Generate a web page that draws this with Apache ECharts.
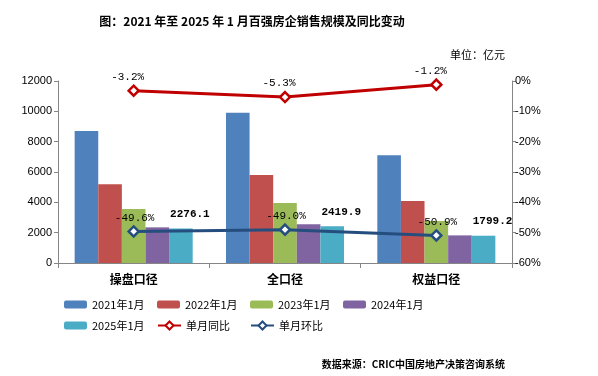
<!DOCTYPE html>
<html>
<head>
<meta charset="utf-8">
<script src="https://cdn.jsdelivr.net/npm/echarts@6/dist/echarts.min.js"></script>
<style>
html,body{margin:0;padding:0;background:#fff;}
#main{width:598px;height:376px;}
</style>
</head>
<body>
<div id="main"></div>
<script>
// 数据
var categories = ['操盘口径', '全口径', '权益口径'];
var years = ['2021年1月', '2022年1月', '2023年1月', '2024年1月', '2025年1月'];
var v2021 = [8700, 9900, 7100];
var v2022 = [5200, 5800, 4090];
var v2023 = [3560, 3950, 2770];
var v2024 = [2351, 2555, 1821];
var v2025 = [2276.1, 2419.9, 1799.2];
var yoy = [-3.2, -5.3, -1.2];   // 单月同比
var mom = [-49.6, -49.0, -50.9]; // 单月环比
var leftTicks = { min: 0, max: 12000, interval: 2000 };
var rightTicks = { min: -60, max: 0, interval: 10 };

var barColors = ['#4F81BD', '#C0504D', '#9BBB59', '#8064A2', '#4BACC6'];
var barData = [v2021, v2022, v2023, v2024, v2025];
var cjk = '"Noto Sans CJK SC", "Liberation Sans", sans-serif';
var mono = '"Liberation Mono", "DejaVu Sans Mono", monospace';
var arial = '"Liberation Sans", Arial, sans-serif';

var myChart = echarts.init(document.getElementById('main'));

var series = barData.map(function (d, i) {
    var s = {
        name: years[i],
        type: 'bar',
        data: d,
        barGap: '0%',
        barCategoryGap: '22%',
        itemStyle: { color: barColors[i] },
        z: 2
    };
    if (i == 4) {
        s.label = {
            show: true,
            position: 'top',
            offset: [9, -4],
            fontFamily: mono,
            fontWeight: 'bold',
            fontSize: 11,
            color: '#000',
            formatter: function (p) { return p.value.toFixed(1); }
        };
    }
    return s;
});

function lineSeries(name, data, color, offset) {
    return {
        name: name,
        type: 'line',
        yAxisIndex: 1,
        data: data,
        symbol: 'diamond',
        symbolSize: 10,
        lineStyle: { color: color, width: 3 },
        itemStyle: { color: '#fff', borderColor: color, borderWidth: 2.5 },
        label: {
            show: true,
            position: 'top',
            distance: 2,
            offset: offset,
            fontFamily: mono,
            fontSize: 11,
            color: '#000',
            formatter: function (p) { return p.value.toFixed(1) + '%'; }
        },
        z: 5
    };
}
series.push(lineSeries('单月同比', yoy, '#C00000', [-6, 0]));
series.push(lineSeries('单月环比', mom, '#254E7F', [1, 0]));

// 图例位置（两行）
var legendPos = [
    [years[0], 64, 299], [years[1], 157, 299], [years[2], 250, 299], [years[3], 343, 299],
    [years[4], 64, 320], ['单月同比', 157, 320], ['单月环比', 250, 320]
];
var legends = legendPos.map(function (p) {
    return {
        data: [p[0]],
        left: p[1],
        top: p[2],
        itemWidth: 23,
        itemHeight: p[0].indexOf('单月') == 0 ? 10 : 8,
        itemGap: 4,
        padding: 0,
        selectedMode: false,
        textStyle: { fontFamily: cjk, fontSize: 11, color: '#000' }
    };
});

var axisLine = { show: true, lineStyle: { color: '#868686', width: 1 } };

var option = {
    animation: false,
    backgroundColor: '#fff',
    title: [
        {
            text: '图：2021 年至 2025 年 1 月百强房企销售规模及同比变动',
            left: 247, top: 10, textAlign: 'center',
            textStyle: { fontFamily: cjk, fontSize: 12, fontWeight: 'bold', color: '#000' }
        },
        {
            text: '单位：亿元',
            right: 88, top: 44,
            textStyle: { fontFamily: cjk, fontSize: 11, fontWeight: 'normal', color: '#000' }
        },
        {
            text: '数据来源：CRIC中国房地产决策咨询系统',
            right: 88, top: 354,
            textStyle: { fontFamily: cjk, fontSize: 10, fontWeight: 'bold', color: '#000' }
        }
    ],
    legend: legends,
    grid: { left: 58, right: 86, top: 81, bottom: 113 },
    xAxis: {
        type: 'category',
        data: categories,
        axisLine: axisLine,
        axisTick: { show: true, length: 5, lineStyle: { color: '#868686' } },
        axisLabel: { fontFamily: cjk, fontSize: 12, fontWeight: 'bold', color: '#000', margin: 10 }
    },
    yAxis: [
        {
            type: 'value',
            min: leftTicks.min, max: leftTicks.max, interval: leftTicks.interval,
            axisLine: axisLine,
            axisTick: { show: true, length: 4, lineStyle: { color: '#868686' } },
            splitLine: { show: false },
            axisLabel: {
                fontFamily: arial, fontSize: 11, color: '#000', margin: 6,
                formatter: function (v) { return String(v); }
            }
        },
        {
            type: 'value',
            min: rightTicks.min, max: rightTicks.max, interval: rightTicks.interval,
            position: 'right',
            axisLine: axisLine,
            axisTick: { show: true, length: 4, lineStyle: { color: '#868686' } },
            splitLine: { show: false },
            axisLabel: { fontFamily: arial, fontSize: 11, color: '#000', margin: 3, formatter: '{value}%' }
        }
    ],
    series: series
};

myChart.setOption(option);
</script>
</body>
</html>
